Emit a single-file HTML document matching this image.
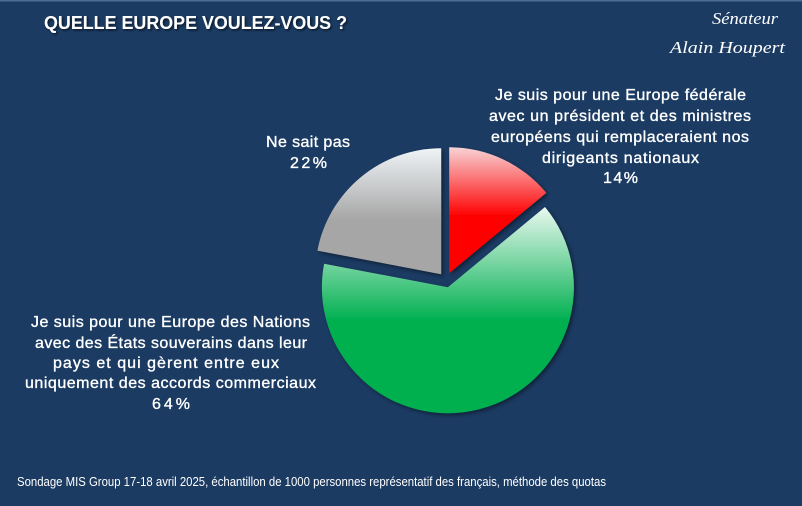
<!DOCTYPE html>
<html><head><meta charset="utf-8"><style>
html,body{margin:0;padding:0;background:#1b3b63;}
svg{display:block;}
</style></head><body>
<svg width="802" height="506" viewBox="0 0 802 506" xmlns="http://www.w3.org/2000/svg">
<defs>
<linearGradient id="gr" x1="0" y1="0" x2="0" y2="1">
<stop offset="0" stop-color="#f8d3d6"/><stop offset="0.55" stop-color="#ff0000"/><stop offset="1" stop-color="#ff0000"/></linearGradient>
<linearGradient id="gg" x1="0" y1="0" x2="0" y2="1">
<stop offset="0" stop-color="#eaf8f0"/><stop offset="0.55" stop-color="#00b050"/><stop offset="1" stop-color="#00b050"/></linearGradient>
<linearGradient id="gy" x1="0" y1="0" x2="0" y2="1">
<stop offset="0" stop-color="#eef3f6"/><stop offset="0.57" stop-color="#a6a6a6"/><stop offset="1" stop-color="#a6a6a6"/></linearGradient>
<filter id="sh" x="-10%" y="-10%" width="120%" height="120%">
<feDropShadow dx="2" dy="2" stdDeviation="2" flood-color="#000" flood-opacity="0.45"/></filter>
<filter id="ts" x="-5%" y="-30%" width="110%" height="160%">
<feDropShadow dx="1.5" dy="1.5" stdDeviation="1" flood-color="#000" flood-opacity="0.6"/></filter>
</defs>
<rect width="802" height="506" fill="#1b3b63"/>
<rect width="802" height="1.5" fill="#4d6d92"/>

<g filter="url(#sh)">
<path d="M449.2,273.2 L449.2,147.2 A126,126 0 0 1 546.3,192.9 Z" fill="url(#gr)"/>
<path d="M447.9,287.3 L545.0,207.0 A126,126 0 1 1 324.1,263.7 Z" fill="url(#gg)"/>
<path d="M441.2,274.2 L317.4,250.6 A126,126 0 0 1 441.2,148.2 Z" fill="url(#gy)"/>
</g>

<text x="44" y="29" font-family="Liberation Sans, sans-serif" font-weight="bold" font-size="18" fill="#ffffff" textLength="303" lengthAdjust="spacingAndGlyphs" filter="url(#ts)">QUELLE EUROPE VOULEZ-VOUS ?</text>

<g font-family="Liberation Serif, serif" font-style="italic" fill="#ffffff" font-size="17">
<text x="712" y="24" textLength="66" lengthAdjust="spacingAndGlyphs">Sénateur</text>
<text x="670" y="53" textLength="115" lengthAdjust="spacingAndGlyphs">Alain Houpert</text>
</g>

<g font-family="Liberation Sans, sans-serif" font-size="16" fill="#ffffff" stroke="#ffffff" stroke-width="0.35" lengthAdjust="spacingAndGlyphs">
<text x="495" y="100" textLength="251">Je suis pour une Europe fédérale</text>
<text x="489" y="121" textLength="262">avec un président et des ministres</text>
<text x="491" y="142" textLength="258">européens qui remplaceraient nos</text>
<text x="542" y="163" textLength="157">dirigeants nationaux</text>
<text x="603" y="183" textLength="35">14%</text>

<text x="266" y="147" textLength="84">Ne sait pas</text>
<text x="290" y="168" textLength="37">22%</text>

<text x="31" y="327" textLength="279">Je suis pour une Europe des Nations</text>
<text x="35" y="348" textLength="272">avec des États souverains dans leur</text>
<text x="53" y="368" textLength="226">pays et qui gèrent entre eux</text>
<text x="25" y="388" textLength="291">uniquement des accords commerciaux</text>
<text x="152" y="409" textLength="38">64%</text>
</g>

<text x="17" y="486" font-family="Liberation Sans, sans-serif" font-size="12.5" fill="#ffffff" textLength="589" lengthAdjust="spacingAndGlyphs">Sondage MIS Group 17-18 avril 2025, échantillon de 1000 personnes représentatif des français, méthode des quotas</text>
</svg>
</body></html>
